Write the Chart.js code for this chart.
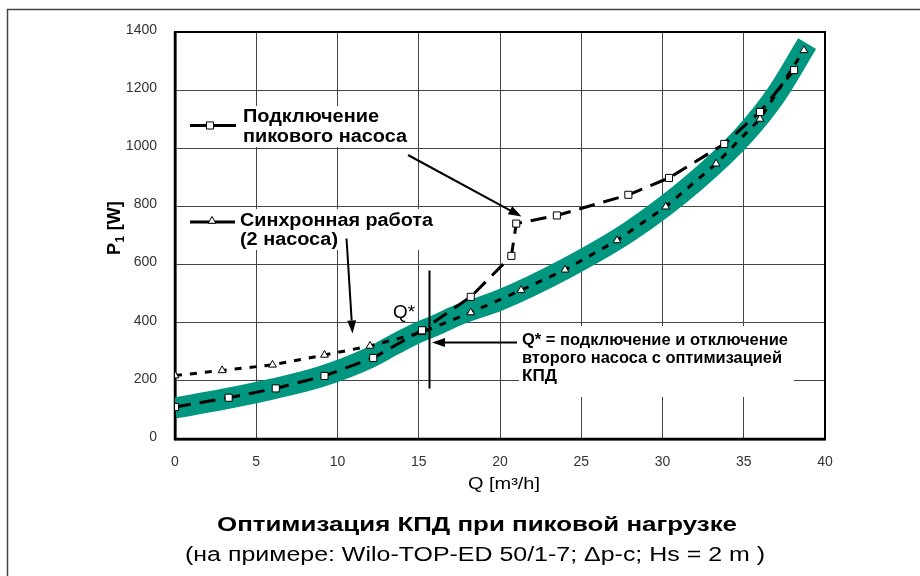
<!DOCTYPE html>
<html>
<head>
<meta charset="utf-8">
<script src="https://cdn.jsdelivr.net/npm/chart.js@4/dist/chart.umd.min.js"></script>
<style>
  html, body { margin: 0; padding: 0; background: #fff; }
  #wrap { width: 920px; height: 576px; position: relative; }
</style>
</head>
<body>
<div id="wrap"><canvas id="c" width="920" height="576"></canvas></div>
<script>
// Flow Q [m3/h] and input power P1 [W]
// Peak pump switched in (squares)
const flowPeak  = [0, 3.3, 6.2, 9.2, 12.2, 15.2, 18.2, 20.7, 21.0, 23.5, 27.9, 30.4, 33.8, 36.0, 38.1];
const powerPeak = [110, 142, 174, 217, 279, 374, 489, 630, 741, 769, 840, 898, 1015, 1125, 1269];

// Synchronous operation, 2 pumps (triangles)
const flowSync  = [0, 2.9, 6.0, 9.2, 12.0, 15.2, 18.2, 21.3, 24.0, 27.2, 30.2, 33.3, 36.0, 38.7];
const powerSync = [218, 236, 255, 289, 320, 367, 435, 512, 582, 683, 799, 947, 1101, 1337];

// Optimal operating band
const flowBand  = [0, 3, 6, 9, 12, 13.5, 15, 16, 17.5, 20, 24, 28, 32, 35, 37, 38.9];
const powerBand = [107, 137, 172, 215, 280, 325, 367, 390, 428, 478, 585, 715, 885, 1045, 1185, 1360];

// Axis ticks
const xTicks = [0, 5, 10, 15, 20, 25, 30, 35, 40];
const yTicks = [0, 200, 400, 600, 800, 1000, 1200, 1400];

const TEAL = '#00967f';
const FONT = '"Liberation Sans", Arial, sans-serif';

const toPts = (xs, ys) => xs.map((q, i) => ({ x: q, y: ys[i] }));

function fitText(ctx, str, x, y, font, width, align) {
  ctx.font = font;
  const w = ctx.measureText(str).width;
  const sx = width ? width / w : 1;
  ctx.save();
  ctx.translate(x, y);
  ctx.scale(sx, 1);
  ctx.textAlign = align || 'left';
  ctx.textBaseline = 'alphabetic';
  ctx.fillText(str, 0, 0);
  ctx.restore();
}

function arrow(ctx, x1, y1, x2, y2, len, half) {
  const a = Math.atan2(y2 - y1, x2 - x1);
  const bx = x2 - len * Math.cos(a), by = y2 - len * Math.sin(a);
  ctx.beginPath();
  ctx.moveTo(x1, y1);
  ctx.lineTo(bx, by);
  ctx.stroke();
  ctx.beginPath();
  ctx.moveTo(x2, y2);
  ctx.lineTo(bx + half * Math.sin(a), by - half * Math.cos(a));
  ctx.lineTo(bx - half * Math.sin(a), by + half * Math.cos(a));
  ctx.closePath();
  ctx.fill();
}

const decor = {
  id: 'decor',
  beforeDatasetsDraw(chart) {
    const { ctx, chartArea: a } = chart;
    ctx.save();
    // white panels behind the notes
    ctx.fillStyle = '#fff';
    ctx.fillRect(240, 106, 170, 41);
    ctx.fillRect(236, 209, 200, 41);
    ctx.fillRect(519, 326, 275, 71);
    // plot frame
    ctx.strokeStyle = '#000';
    ctx.lineWidth = 2;
    ctx.strokeRect(a.left, a.top, a.right - a.left, a.bottom - a.top);
    ctx.lineWidth = 2.5;
    ctx.beginPath();
    ctx.moveTo(a.left, a.top);
    ctx.lineTo(a.left, a.bottom);
    ctx.lineTo(a.right, a.bottom);
    ctx.stroke();
    ctx.restore();
  },
  afterDatasetsDraw(chart) {
    const { ctx } = chart;
    ctx.save();
    ctx.fillStyle = '#000';
    ctx.strokeStyle = '#000';

    // legend samples
    ctx.lineWidth = 3;
    ctx.beginPath();
    ctx.moveTo(190, 125.5); ctx.lineTo(236, 125.5);
    ctx.moveTo(190, 222); ctx.lineTo(235, 222);
    ctx.stroke();
    ctx.fillStyle = '#fff';
    ctx.lineWidth = 1;
    Chart.helpers.drawPoint(ctx, { pointStyle: 'rect', radius: 5, borderWidth: 1, rotation: 0 }, 210, 125.5);
    Chart.helpers.drawPoint(ctx, { pointStyle: 'triangle', radius: 4.5, borderWidth: 1, rotation: 0 }, 212, 221);
    ctx.fillStyle = '#000';

    // legend text
    const boldL = 'bold 18px ' + FONT;
    fitText(ctx, 'Подключение', 243, 121.5, boldL, 136);
    fitText(ctx, 'пикового насоса', 243, 141.5, boldL, 164);
    fitText(ctx, 'Синхронная работа', 240, 225.5, boldL, 193);
    fitText(ctx, '(2 насоса)', 240, 245, boldL, 98);

    // pointer arrows
    ctx.lineWidth = 2;
    arrow(ctx, 408, 155, 521.5, 216.5, 13, 4.5);
    arrow(ctx, 346.5, 238.5, 352.5, 333.5, 13, 4.5);
    arrow(ctx, 517, 342.5, 432, 342.5, 13, 4.5);

    // Q* marker line
    ctx.beginPath();
    ctx.moveTo(429.5, 270.5);
    ctx.lineTo(429.5, 388.5);
    ctx.stroke();
    fitText(ctx, 'Q*', 393, 318, '18px ' + FONT, 22);

    // Q* note
    const boldN = 'bold 16px ' + FONT;
    fitText(ctx, 'Q* = подключение и отключение', 522, 344.5, boldN, 266);
    fitText(ctx, 'второго насоса с оптимизацией', 522, 362.5, boldN, 260);
    fitText(ctx, 'КПД', 522, 381, boldN, 35);

    // axis titles
    fitText(ctx, 'Q [m³/h]', 468, 489, '16px ' + FONT, 72);
    ctx.save();
    ctx.translate(119.5, 255);
    ctx.rotate(-Math.PI / 2);
    ctx.font = 'bold 18px ' + FONT;
    ctx.textBaseline = 'alphabetic';
    ctx.fillText('P', 0, 0);
    const pw = ctx.measureText('P').width;
    ctx.font = 'bold 12px ' + FONT;
    ctx.fillText('1', pw + 0.5, 4);
    const ow = ctx.measureText('1').width;
    ctx.font = 'bold 18px ' + FONT;
    ctx.fillText(' [W]', pw + ow + 1, 0);
    ctx.restore();

    // chart title
    fitText(ctx, 'Оптимизация КПД при пиковой нагрузке', 477, 531, 'bold 21px ' + FONT, 520, 'center');
    fitText(ctx, '(на примере: Wilo-TOP-ED 50/1-7; Δp-c; Hs = 2 m )', 475, 561, '20px ' + FONT, 580, 'center');

    // outer frame
    ctx.strokeStyle = '#444';
    ctx.lineWidth = 1.5;
    ctx.beginPath();
    ctx.moveTo(7.5, 576);
    ctx.lineTo(7.5, 9.5);
    ctx.lineTo(920, 9.5);
    ctx.stroke();
    ctx.restore();
  }
};

new Chart(document.getElementById('c'), {
  type: 'line',
  data: {
    datasets: [
      {
        label: 'Подключение пикового насоса',
        data: toPts(flowPeak, powerPeak),
        borderColor: '#000',
        borderWidth: 3,
        borderDash: [16, 9],
        tension: 0,
        pointStyle: 'rect',
        pointRadius: 5,
        pointBorderWidth: 1,
        pointBackgroundColor: '#fff',
        pointBorderColor: '#000',
        order: 1
      },
      {
        label: 'Синхронная работа (2 насоса)',
        data: toPts(flowSync, powerSync),
        borderColor: '#000',
        borderWidth: 3,
        borderDash: [7, 8],
        tension: 0,
        pointStyle: 'triangle',
        pointRadius: 4.5,
        pointBorderWidth: 1,
        pointBackgroundColor: '#fff',
        pointBorderColor: '#000',
        order: 2
      },
      {
        label: 'Оптимальный режим',
        data: toPts(flowBand, powerBand),
        borderColor: TEAL,
        borderWidth: 21,
        borderCapStyle: 'butt',
        borderJoinStyle: 'round',
        cubicInterpolationMode: 'monotone',
        pointRadius: 0,
        order: 3
      }
    ]
  },
  options: {
    responsive: false,
    animation: false,
    events: [],
    layout: { padding: { left: 0, top: 32, right: 95, bottom: 0 } },
    plugins: { legend: { display: false }, tooltip: { enabled: false } },
    scales: {
      x: {
        type: 'linear',
        min: xTicks[0],
        max: xTicks[xTicks.length - 1],
        afterBuildTicks(s) { s.ticks = xTicks.map(v => ({ value: v })); },
        afterFit(s) { s.height = 137; },
        grid: { color: '#444', lineWidth: 1, drawTicks: false },
        border: { color: '#000', width: 2.5 },
        ticks: { padding: 15, color: '#333', font: { family: FONT, size: 14 }, callback: v => String(v) }
      },
      y: {
        type: 'linear',
        min: yTicks[0],
        max: yTicks[yTicks.length - 1],
        afterBuildTicks(s) { s.ticks = yTicks.map(v => ({ value: v })); },
        afterFit(s) { s.width = 175; },
        grid: { color: '#444', lineWidth: 1, drawTicks: false },
        border: { color: '#000', width: 2.5 },
        ticks: { padding: 18, labelOffset: -2, color: '#333', font: { family: FONT, size: 14 }, callback: v => String(v) }
      }
    }
  },
  plugins: [decor]
});
</script>
</body>
</html>
